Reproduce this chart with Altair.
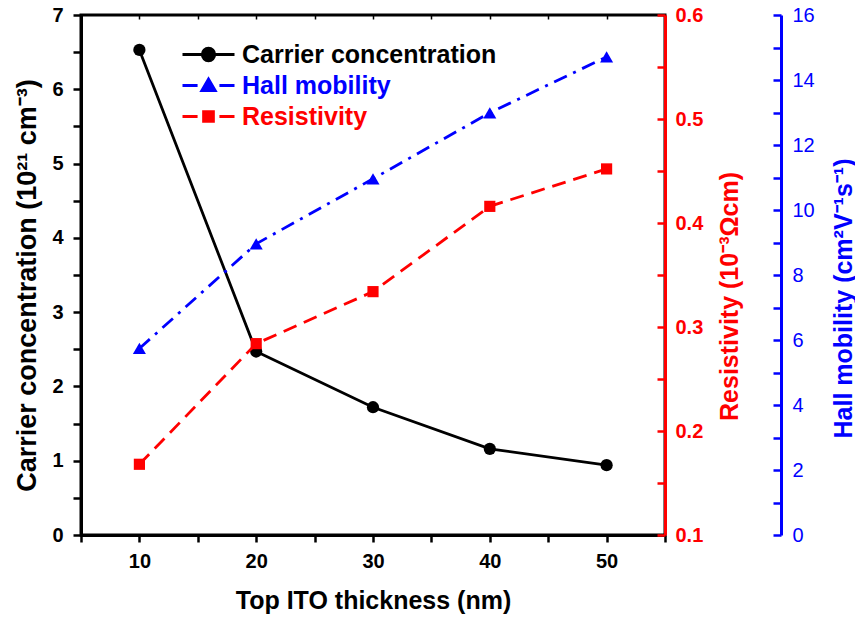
import altair as alt
import pandas as pd

# ---- data ----
thickness = [10, 20, 30, 40, 50]
carrier = [6.53, 2.47, 1.72, 1.16, 0.94]          # 10^21 cm^-3
mobility = [5.74, 8.96, 10.96, 12.99, 14.71]       # cm^2 V^-1 s^-1
resistivity = [0.168, 0.284, 0.334, 0.416, 0.452]  # 10^-3 Ohm cm

series_names = ["Carrier concentration", "Hall mobility", "Resistivity"]
series_colors = ["#000000", "#0000ff", "#ff0000"]
legend_paths = [
    "M-1,0H1M-0.24,0A0.24,0.24,0,1,0,0.24,0A0.24,0.24,0,1,0,-0.24,0Z",
    "M-1,0H-0.42M0.42,0H1M-0.26,0.2L0,-0.25L0.26,0.2Z",
    "M-1,0H-0.42M0.42,0H1M-0.19,-0.19H0.19V0.19H-0.19Z",
]

x_ticks = [5, 10, 15, 20, 25, 30, 35, 40, 45, 50, 55]
left_ticks = [i * 0.5 for i in range(15)]
red_ticks = [round(0.1 + i * 0.05, 2) for i in range(11)]
blue_ticks = list(range(17))

df = pd.DataFrame({
    "thickness": thickness,
    "carrier": carrier,
    "mobility": mobility,
    "resistivity": resistivity,
})
legend_df = pd.DataFrame({"series": series_names})

FONT = "Liberation Sans"
W, H = 584, 520

x_scale = alt.Scale(domain=[5, 55], nice=False, zero=False)

x_enc = alt.X(
    "thickness:Q", scale=x_scale,
    axis=alt.Axis(
        values=x_ticks, title="Top ITO thickness (nm)", format="d",
        labelExpr="(datum.value % 10 == 0 && datum.value >= 10 && datum.value <= 50) ? datum.label : ''",
        tickSize=7, tickWidth=2.5, labelPadding=9, domainWidth=3,
        domainColor="black", tickColor="black", labelColor="black",
        labelFontSize=20, labelFontWeight="bold", titleFontSize=25,
        titleFontWeight="bold", titleColor="black",
        titleX=W / 2, titleY=65, titleBaseline="middle", titleAlign="center",
    ),
)
x_plain = alt.X("thickness:Q", scale=x_scale, axis=None)

# Carrier concentration (left axis)
c_base = alt.Chart(df).encode(
    x=x_enc,
    y=alt.Y(
        "carrier:Q", scale=alt.Scale(domain=[0, 7], nice=False, zero=False),
        axis=alt.Axis(
            orient="left", values=left_ticks, format=".0f",
            labelExpr="datum.value % 1 == 0 ? datum.label : ''",
            title="Carrier concentration (10²¹ cm⁻³)",
            tickSize=8, tickWidth=2.5, labelPadding=10, domainWidth=3,
            domainColor="black", tickColor="black", labelColor="black",
            labelFontSize=20, labelFontWeight="bold", titleFontSize=27,
            titleFontWeight="bold", titleColor="black",
            titleX=-54, titleY=270, titleAngle=270,
            titleBaseline="middle", titleAlign="center",
        ),
    ),
)
carrier_layer = alt.layer(
    c_base.mark_line(color="black", strokeWidth=2.8),
    c_base.mark_point(filled=True, shape="circle", size=150, color="black", opacity=1),
)

# Hall mobility (far right, blue)
m_base = alt.Chart(df).encode(
    x=x_plain,
    y=alt.Y(
        "mobility:Q", scale=alt.Scale(domain=[0, 16], nice=False, zero=False),
        axis=alt.Axis(
            orient="left", offset=-(W + 116), values=blue_ticks, format="d",
            labelExpr="datum.value % 2 == 0 ? datum.label : ''",
            title="Hall mobility (cm²V⁻¹s⁻¹)",
            tickSize=8, tickWidth=2.5, labelPadding=-19, labelAlign="left",
            domainWidth=3, domainColor="#0000ff", tickColor="#0000ff",
            labelColor="#0000ff", labelFontSize=20, labelFontWeight="normal",
            titleFontSize=25, titleFontWeight="bold", titleColor="#0000ff",
            titleX=62, titleY=283, titleAngle=270,
            titleBaseline="middle", titleAlign="center",
        ),
    ),
)
mobility_layer = alt.layer(
    m_base.mark_line(color="#0000ff", strokeWidth=2.8, strokeDash=[14, 7, 3, 7]),
    m_base.mark_point(filled=True, shape="triangle-up", size=170, color="#0000ff", opacity=1),
)

# Resistivity (right, red)
r_base = alt.Chart(df).encode(
    x=x_plain,
    y=alt.Y(
        "resistivity:Q", scale=alt.Scale(domain=[0.1, 0.6], nice=False, zero=False),
        axis=alt.Axis(
            orient="left", offset=-W, values=red_ticks, format=".1f",
            labelExpr="round(datum.value * 100) % 10 == 0 ? datum.label : ''",
            title="Resistivity (10⁻³Ωcm)",
            tickSize=8, tickWidth=2.5, labelPadding=-18, labelAlign="left",
            domainWidth=3, domainColor="#ff0000", tickColor="#ff0000",
            labelColor="#ff0000", labelFontSize=20, labelFontWeight="bold",
            titleFontSize=25, titleFontWeight="bold", titleColor="#ff0000",
            titleX=64, titleY=281, titleAngle=270,
            titleBaseline="middle", titleAlign="center",
        ),
    ),
)
resistivity_layer = alt.layer(
    r_base.mark_line(color="#ff0000", strokeWidth=2.8, strokeDash=[14, 8]),
    r_base.mark_point(filled=True, shape="square", size=125, color="#ff0000", opacity=1),
)

# Legend-only layer (no data drawn) + mirrored top ticks
leg = alt.Legend(
    orient="none", legendX=100, legendY=24, title=None,
    labelFont=FONT, labelFontSize=25, labelFontWeight="bold", labelLimit=0,
    labelColor={"expr": "datum.label === 'Hall mobility' ? '#0000ff' : (datum.label === 'Resistivity' ? '#ff0000' : '#000000')"},
    symbolSize=2704, symbolStrokeWidth=2.8, symbolOpacity=1,
    labelOffset=6, clipHeight=31, rowPadding=0, padding=0,
)
legend_layer = alt.Chart(legend_df).transform_filter("false").mark_point(
    filled=True, opacity=1, strokeWidth=2.8
).encode(
    x=alt.X(
        "thickness:Q", scale=x_scale,
        axis=alt.Axis(orient="bottom", offset=-H, values=x_ticks, labels=False,
                      domain=False, tickSize=4, tickWidth=1.5, tickColor="black",
                      title=None),
    ),
    fill=alt.Fill("series:N", scale=alt.Scale(domain=series_names, range=series_colors), legend=leg),
    stroke=alt.Stroke("series:N", scale=alt.Scale(domain=series_names, range=series_colors), legend=leg),
    shape=alt.Shape("series:N", scale=alt.Scale(domain=series_names, range=legend_paths), legend=leg),
)

chart = alt.layer(
    carrier_layer, mobility_layer, resistivity_layer, legend_layer
).resolve_scale(
    y="independent", x="independent"
).properties(
    width=W, height=H, autosize="none",
    padding={"left": 81, "top": 15, "right": 855 - 81 - W, "bottom": 617 - 15 - H},
    background="white",
).configure_view(
    stroke="black", strokeWidth=3
).configure_axis(
    grid=False, labelFont=FONT, titleFont=FONT,
)

chart.save("out.html", embed_options={"renderer": "svg", "actions": False})
